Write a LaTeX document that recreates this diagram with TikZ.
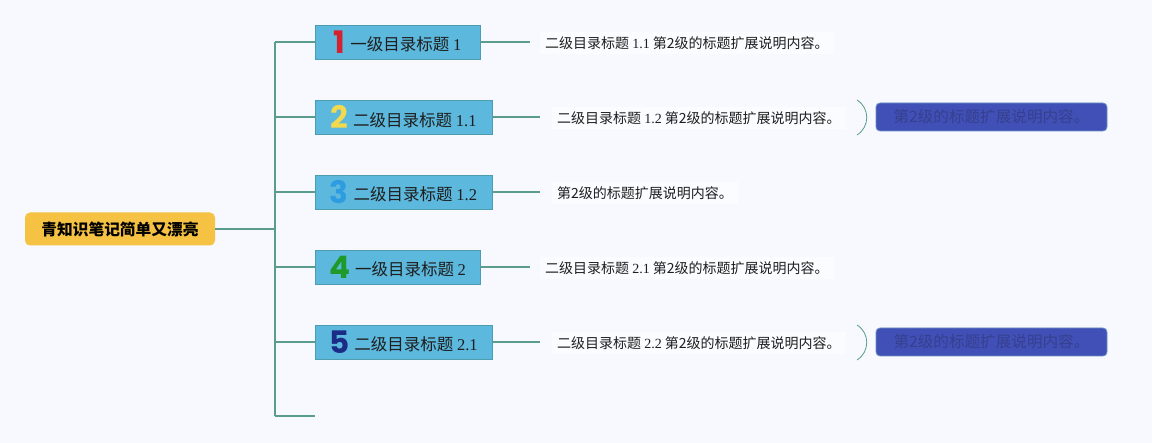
\documentclass[tikz,border=0pt]{standalone}
\usepackage{fontspec}
\setmainfont{Noto Sans CJK SC}
\newfontfamily\ser{Liberation Serif}
\newfontfamily\numf{Poppins}
\definecolor{bgc}{HTML}{F7F9FE}
\definecolor{rootc}{HTML}{F5C243}
\definecolor{boxc}{HTML}{5CB8DD}
\definecolor{boxb}{HTML}{4E9DAE}
\definecolor{linec}{HTML}{5A9C8E}
\definecolor{subc}{HTML}{4150B7}
\definecolor{subb}{HTML}{6A8FC0}
\definecolor{subt}{HTML}{36408E}
\definecolor{txt}{HTML}{1E1E1E}
\definecolor{cA}{HTML}{D42231}
\definecolor{cB}{HTML}{F2D94E}
\definecolor{cC}{HTML}{2E9CE0}
\definecolor{cD}{HTML}{1F9A2A}
\definecolor{cE}{HTML}{1B2C86}
\newcommand{\dg}[2]{\raisebox{-2.5pt}{\textcolor{#1}{\numf\bfseries\fontsize{31}{31}\selectfont #2}}\hspace{5pt}}
\begin{document}
\begin{tikzpicture}[x=1pt,y=-1pt,
  rootbox/.style={fill=rootc, rounded corners=5pt, minimum width=190pt, minimum height=33pt, inner sep=0pt, text=black, font=\fontsize{15.7}{18}\selectfont\bfseries},
  topic/.style={fill=boxc, draw=boxb, line width=0.9pt, minimum height=34pt, inner sep=0pt, text=txt, font=\fontsize{16.5}{19}\selectfont},
  desc/.style={anchor=west, fill=white!55!bgc, inner xsep=5pt, inner ysep=4pt, text=txt, font=\fontsize{14}{17}\selectfont},
  link/.style={draw=linec, line width=1.8pt},
  subbox/.style={fill=subc, draw=subb, line width=0.8pt, rounded corners=4pt, minimum width=231pt, minimum height=28pt, inner sep=0pt, text=subt, font=\fontsize{15.6}{18}\selectfont},
  brace/.style={draw=linec, line width=0.8pt}]
\fill[bgc] (0,0) rectangle (1152,443);
\useasboundingbox (0,0) rectangle (1152,443);

\node[rootbox] (r) at (120,229) {青知识笔记简单又漂亮};

\node[topic, minimum width=165pt] (t1) at (397.5,42) {\dg{cA}{1}一级目录标题 {\ser 1}};
\node[topic, minimum width=177pt] (t2) at (403.5,117) {\dg{cB}{2}二级目录标题 {\ser 1.1}};
\node[topic, minimum width=177pt] (t3) at (403.5,192) {\dg{cC}{3}二级目录标题 {\ser 1.2}};
\node[topic, minimum width=165pt] (t4) at (397.5,267) {\dg{cD}{4}一级目录标题 {\ser 2}};
\node[topic, minimum width=177pt] (t5) at (403.5,342) {\dg{cE}{5}二级目录标题 {\ser 2.1}};

\coordinate (j0) at (275,229);
\coordinate (j1) at (275,42);
\coordinate (j2) at (275,117);
\coordinate (j3) at (275,192);
\coordinate (j4) at (275,267);
\coordinate (j5) at (275,342);
\coordinate (j6) at (275,416);
\coordinate (e6) at (315,416);

\draw[link] (r.east) -- (j0);
\draw[link] (j1) -- (j6);
\draw[link] (j1) -- (t1.west);
\draw[link] (j2) -- (t2.west);
\draw[link] (j3) -- (t3.west);
\draw[link] (j4) -- (t4.west);
\draw[link] (j5) -- (t5.west);
\draw[link] (j6) -- (e6);

\node[desc] (d1) at (540,43) {二级目录标题 {\ser 1.1} 第2级的标题扩展说明内容。};
\node[desc] (d2) at (552,118) {二级目录标题 {\ser 1.2} 第2级的标题扩展说明内容。};
\node[desc] (d3) at (552,193) {第2级的标题扩展说明内容。};
\node[desc] (d4) at (540,268) {二级目录标题 {\ser 2.1} 第2级的标题扩展说明内容。};
\node[desc] (d5) at (552,343) {二级目录标题 {\ser 2.2} 第2级的标题扩展说明内容。};

\draw[link, shorten >=10pt] (t1.east) -- (d1.west |- t1.east);
\draw[link, shorten >=12pt] (t2.east) -- (d2.west |- t2.east);
\draw[link, shorten >=12pt] (t3.east) -- (d3.west |- t3.east);
\draw[link, shorten >=10pt] (t4.east) -- (d4.west |- t4.east);
\draw[link, shorten >=12pt] (t5.east) -- (d5.west |- t5.east);

\node[subbox] (s2) at (991.5,117) {第2级的标题扩展说明内容。};
\node[subbox] (s5) at (991.5,342) {第2级的标题扩展说明内容。};

\coordinate (b2t) at (857,100);
\coordinate (b2b) at (857,135);
\coordinate (b5t) at (857,325);
\coordinate (b5b) at (857,360);
\draw[brace] (b2t) .. controls (870,108) and (870,127) .. (b2b);
\draw[brace] (b5t) .. controls (870,333) and (870,352) .. (b5b);
\end{tikzpicture}
\end{document}
